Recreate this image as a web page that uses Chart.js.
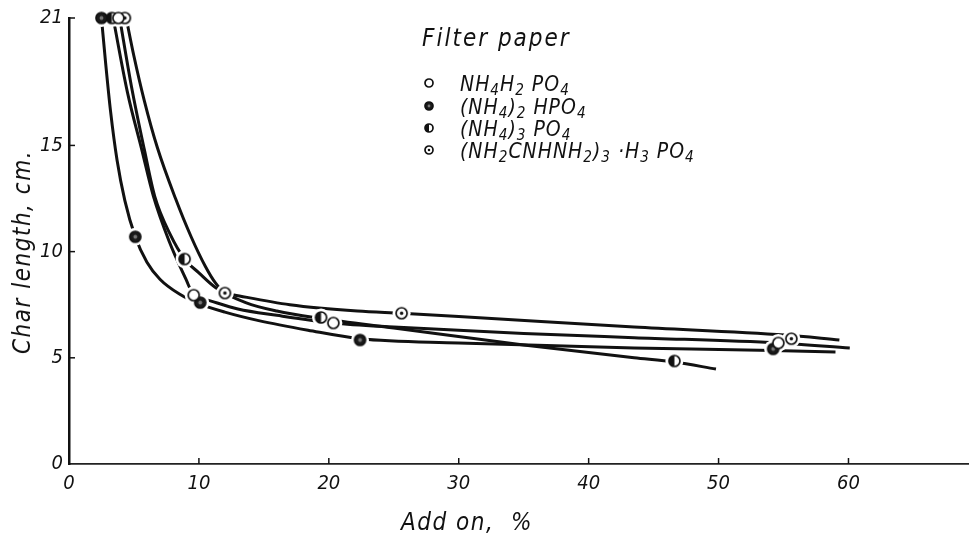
<!DOCTYPE html>
<html>
<head>
<meta charset="utf-8">
<script src="https://cdn.jsdelivr.net/npm/chart.js@4/dist/chart.umd.min.js"></script>
<style>
  body { margin: 0; background: #fff; }
  #wrap { position: relative; width: 977px; height: 535px; overflow: hidden; }
  #chart { position: absolute; left: 0; top: 0; }
  .txt { position: absolute; font-family: "Liberation Sans Narrow", "DejaVu Sans Condensed", sans-serif;
         font-style: italic; color: #111; white-space: nowrap; line-height: 1; }
  .txt sub { font-size: 0.72em; vertical-align: -0.28em; line-height: 0; }
  #ytitle { left: 22px; top: 252px; font-size: 24px; letter-spacing: 1.5px; transform: translate(-50%, -50%) rotate(-90deg); }
  #xtitle { left: 467px; top: 522px; font-size: 24px; letter-spacing: 1.5px; transform: translate(-50%, -50%); }
  #ltitle { left: 422px; top: 26px; font-size: 24px; letter-spacing: 2px; }
  .row { position: absolute; left: 423px; height: 20px; }
  .row canvas { position: absolute; left: 0; top: 3px; }
  .row .txt { left: 37px; top: 0; font-size: 21px; letter-spacing: 1px; }
</style>
</head>
<body>
<div id="wrap">
  <canvas id="chart" width="977" height="535"></canvas>
  <div class="txt" id="ytitle">Char length, cm.</div>
  <div class="txt" id="xtitle">Add on,&nbsp;&nbsp;%</div>
  <div class="txt" id="ltitle">Filter paper</div>
  <div class="row" id="row0" style="top:74px"><span class="txt">NH<sub>4</sub>H<sub>2</sub> PO<sub>4</sub></span></div>
  <div class="row" id="row1" style="top:97px"><span class="txt">(NH<sub>4</sub>)<sub>2</sub> HPO<sub>4</sub></span></div>
  <div class="row" id="row2" style="top:119px"><span class="txt">(NH<sub>4</sub>)<sub>3</sub> PO<sub>4</sub></span></div>
  <div class="row" id="row3" style="top:141px"><span class="txt">(NH<sub>2</sub>CNHNH<sub>2</sub>)<sub>3</sub> ·H<sub>3</sub> PO<sub>4</sub></span></div>
</div>
<script>
// axis ticks
const xTicks = [0, 10, 20, 30, 40, 50, 60];
const yTicks = [0, 5, 10, 15, 21];

// measured points, one set per salt
const monoX = [3.8, 9.6, 20.35, 54.6];
const monoY = [21, 7.95, 6.64, 5.7];
const diX = [2.5, 5.1, 10.1, 22.4, 54.2];
const diY = [21, 10.7, 7.6, 5.84, 5.42];
const triX = [3.3, 8.9, 19.4, 46.6];
const triY = [21, 9.65, 6.9, 4.85];
const guanX = [4.3, 12.0, 25.6, 55.6];
const guanY = [21, 8.05, 7.1, 5.9];

// hand drawn curves
const monoCurveX = [3.4, 4.5, 5.6, 6.5, 7.7, 9.0, 9.6, 10.5, 13.0, 16.0, 20.35, 25, 35, 43.5, 54.6, 60.1];
const monoCurveY = [21, 17.5, 14.8, 12.6, 10.5, 8.7, 7.95, 7.75, 7.3, 7.0, 6.64, 6.45, 6.15, 5.95, 5.7, 5.46];
const diCurveX = [2.5, 2.8, 3.2, 3.7, 4.3, 5.1, 6.0, 7.0, 8.5, 10.0, 12.0, 14.6, 18.4, 22.4, 30, 43.5, 54.2, 59.0];
const diCurveY = [21, 19, 16.6, 14.3, 12.4, 10.7, 9.5, 8.7, 8.0, 7.55, 7.15, 6.75, 6.3, 5.9, 5.7, 5.46, 5.35, 5.27];
const triCurveX = [3.9, 4.8, 5.8, 6.6, 7.8, 8.9, 10.0, 11.3, 13.6, 16, 19.4, 25, 35, 43.5, 46.6, 49.8];
const triCurveY = [21, 17.8, 14.8, 12.6, 10.8, 9.65, 9.0, 8.3, 7.6, 7.2, 6.85, 6.4, 5.6, 5.0, 4.8, 4.47];
const guanCurveX = [4.4, 5.0, 5.8, 6.8, 8.2, 9.4, 10.5, 11.3, 12.0, 12.7, 17, 22.2, 25.6, 30, 43.5, 55.1, 59.3];
const guanCurveY = [21, 19.2, 17.1, 14.9, 12.5, 10.7, 9.3, 8.5, 8.05, 7.96, 7.5, 7.2, 7.1, 6.95, 6.45, 6.07, 5.84];

const FONT = '"Liberation Sans Narrow", "DejaVu Sans Condensed", sans-serif';

function pts(xs, ys) {
    return xs.map(function (x, i) { return { x: x, y: ys[i] }; });
}

// little marker pictures: open, solid, half, dotted
function makeMarker(kind, r) {
    var c = document.createElement('canvas');
    var s = Math.ceil(r * 2 + 4);
    c.width = s; c.height = s;
    var g = c.getContext('2d');
    var m = s / 2;
    g.lineWidth = 1.7;
    g.strokeStyle = '#111';
    g.beginPath();
    g.arc(m, m, r, 0, Math.PI * 2);
    g.fillStyle = kind == 'solid' ? '#1a1a1a' : '#fff';
    g.fill();
    g.stroke();
    if (kind == 'solid') {
        g.fillStyle = '#777';
        g.beginPath(); g.arc(m, m, r * 0.35, 0, Math.PI * 2); g.fill();
    }
    if (kind == 'half') {
        g.fillStyle = '#111';
        g.beginPath(); g.arc(m, m, r, Math.PI / 2, Math.PI * 1.5); g.closePath(); g.fill();
    }
    if (kind == 'dot') {
        g.fillStyle = '#111';
        g.beginPath(); g.arc(m, m, r * 0.32, 0, Math.PI * 2); g.fill();
    }
    return c;
}

var kinds = ['open', 'solid', 'half', 'dot'];
var markers = kinds.map(function (k) { return makeMarker(k, 5.5); });
kinds.forEach(function (k, i) {
    document.getElementById('row' + i).appendChild(makeMarker(k, 4));
});

var curves = [[monoCurveX, monoCurveY], [diCurveX, diCurveY], [triCurveX, triCurveY], [guanCurveX, guanCurveY]];
var points = [[monoX, monoY], [diX, diY], [triX, triY], [guanX, guanY]];

var datasets = [];
curves.forEach(function (c) {
    datasets.push({
        data: pts(c[0], c[1]),
        showLine: true,
        borderColor: '#111',
        borderWidth: 3,
        pointRadius: 0,
        cubicInterpolationMode: 'monotone',
        order: 3,
        clip: false
    });
});
// white halo gives the break in the line around each marker
points.forEach(function (p) {
    datasets.push({
        data: pts(p[0], p[1]),
        showLine: false,
        pointRadius: 9,
        pointBackgroundColor: '#fff',
        pointBorderWidth: 0,
        order: 2,
        clip: false
    });
});
points.forEach(function (p, i) {
    datasets.push({
        data: pts(p[0], p[1]),
        showLine: false,
        pointStyle: markers[i],
        order: 1,
        clip: false
    });
});

const inwardTicks = {
    id: 'inwardTicks',
    afterDraw: function (chart) {
        var ctx = chart.ctx, xs = chart.scales.x, ys = chart.scales.y;
        ctx.save();
        ctx.strokeStyle = '#111';
        ctx.lineWidth = 1.5;
        xTicks.forEach(function (v) {
            if (v == 0) return;
            var px = xs.getPixelForValue(v);
            ctx.beginPath(); ctx.moveTo(px, ys.bottom); ctx.lineTo(px, ys.bottom - 6); ctx.stroke();
        });
        yTicks.forEach(function (v) {
            if (v == 0) return;
            var py = ys.getPixelForValue(v);
            ctx.beginPath(); ctx.moveTo(xs.left, py); ctx.lineTo(xs.left + 6, py); ctx.stroke();
        });
        ctx.restore();
    }
};

new Chart(document.getElementById('chart').getContext('2d'), {
    type: 'scatter',
    data: { datasets: datasets },
    plugins: [inwardTicks],
    options: {
        responsive: false,
        animation: false,
        layout: { padding: { top: 18, right: 0, left: 0, bottom: 0 } },
        plugins: { legend: { display: false }, tooltip: { enabled: false } },
        scales: {
            x: {
                type: 'linear', min: 0, max: 69.2,
                afterBuildTicks: function (s) { s.ticks = xTicks.map(function (v) { return { value: v }; }); },
                afterFit: function (s) { s.height = 71; },
                grid: { display: false, drawTicks: false },
                border: { display: true, color: '#222', width: 1.8 },
                ticks: { padding: 8, color: '#111', font: { family: FONT, size: 20, style: 'italic' } }
            },
            y: {
                type: 'linear', min: 0, max: 21,
                afterBuildTicks: function (s) { s.ticks = yTicks.map(function (v) { return { value: v }; }); },
                afterFit: function (s) { s.width = 69; },
                grid: { display: false, drawTicks: false },
                border: { display: true, color: '#111', width: 2.5 },
                ticks: { padding: 6, color: '#111', font: { family: FONT, size: 20, style: 'italic' } }
            }
        }
    }
});
</script>
</body>
</html>
